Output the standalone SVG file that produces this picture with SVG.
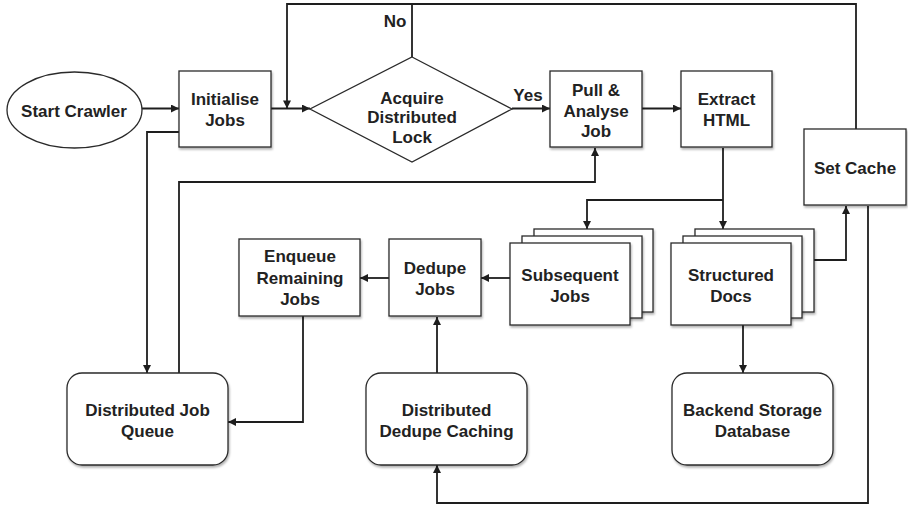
<svg xmlns="http://www.w3.org/2000/svg" width="908" height="506" viewBox="0 0 908 506">
  <style>
    .shape { fill: #ffffff; stroke: #2a2a2a; stroke-width: 1.3; }
    .shadowed { filter: url(#shadow); }
    .label { font-family: "Liberation Sans", Arial, Helvetica, sans-serif; font-weight: bold; font-size: 17px; fill: #222222; text-anchor: middle; }
    .wire { fill: none; stroke: #1e1e1e; stroke-width: 1.8; }
    .arrow { marker-end: url(#head); }
  </style>
  <defs>
    <marker id="head" viewBox="0 0 10 10" refX="10" refY="5" markerWidth="9" markerHeight="8" markerUnits="userSpaceOnUse" orient="auto">
      <path d="M0,0 L10,5 L0,10 z" fill="#1e1e1e"/>
    </marker>
    <filter id="shadow" x="-10%" y="-10%" width="125%" height="130%">
      <feDropShadow dx="1" dy="2" stdDeviation="1.2" flood-color="#000000" flood-opacity="0.3"/>
    </filter>
  </defs>

  <rect width="908" height="506" fill="#ffffff"/>

  <!-- connectors -->
  <g id="connectors">
    <!-- start -> initialise -->
    <path class="wire arrow" d="M142,108.5 H179"/>
    <!-- initialise -> lock -->
    <path class="wire arrow" d="M271,108.5 H310"/>
    <!-- No: loop back from the lock, also fed by Set Cache -->
    <path class="wire" d="M412,57 V4"/>
    <path class="wire arrow" d="M856,129 V4 H287 V108.5"/>
    <!-- Yes -->
    <path class="wire arrow" d="M512,108.5 H550"/>
    <!-- pull -> extract -->
    <path class="wire arrow" d="M642,108.5 H681"/>
    <!-- extract -> structured docs / subsequent jobs -->
    <path class="wire arrow" d="M723,148 V229"/>
    <path class="wire arrow" d="M723,200 H587 V229"/>
    <!-- structured docs -> set cache -->
    <path class="wire arrow" d="M814,260 H846 V206"/>
    <!-- set cache -> dedupe caching -->
    <path class="wire arrow" d="M868,206 V503 H437 V465"/>
    <!-- structured docs -> backend storage -->
    <path class="wire arrow" d="M743,325 V373"/>
    <!-- subsequent -> dedupe -> enqueue -->
    <path class="wire arrow" d="M510,278 H481"/>
    <path class="wire arrow" d="M389,278 H360"/>
    <!-- dedupe caching -> dedupe jobs -->
    <path class="wire arrow" d="M437,373 V317"/>
    <!-- enqueue -> job queue -->
    <path class="wire arrow" d="M303,316 V422 H228"/>
    <!-- initialise -> job queue -->
    <path class="wire arrow" d="M179,132 H147 V373"/>
    <!-- job queue -> pull -->
    <path class="wire arrow" d="M179,373 V182 H595 V148"/>
  </g>

  <!-- edge labels -->
  <text class="label" x="395" y="27">No</text>
  <text class="label" x="528" y="101">Yes</text>

  <g id="start-crawler">
    <ellipse class="shape" cx="74.5" cy="110" rx="67.5" ry="38"/>
    <text class="label" x="74" y="116.5">Start Crawler</text>
  </g>

  <g id="initialise-jobs">
    <rect class="shape shadowed" x="179" y="71" width="92" height="76"/>
    <text class="label" x="225" y="105">Initialise</text>
    <text class="label" x="225" y="125.5">Jobs</text>
  </g>

  <g id="acquire-lock">
    <polygon class="shape" points="412,57 512,109 412,162 310,109"/>
    <text class="label" x="412" y="104">Acquire</text>
    <text class="label" x="412" y="123">Distributed</text>
    <text class="label" x="412" y="142.5">Lock</text>
  </g>

  <g id="pull-analyse-job">
    <rect class="shape shadowed" x="550" y="71" width="92" height="76"/>
    <text class="label" x="596" y="95.5">Pull &amp;</text>
    <text class="label" x="596" y="116.5">Analyse</text>
    <text class="label" x="596" y="137">Job</text>
  </g>

  <g id="extract-html">
    <rect class="shape shadowed" x="681" y="71" width="91" height="76"/>
    <text class="label" x="726.5" y="105">Extract</text>
    <text class="label" x="726.5" y="126">HTML</text>
  </g>

  <g id="set-cache">
    <rect class="shape shadowed" x="804" y="129" width="102" height="76"/>
    <text class="label" x="855" y="173.5">Set Cache</text>
  </g>

  <g id="subsequent-jobs">
    <rect class="shape shadowed" x="534" y="229" width="119" height="83"/>
    <rect class="shape shadowed" x="522" y="236" width="120" height="82"/>
    <rect class="shape shadowed" x="510" y="243" width="120" height="82"/>
    <text class="label" x="570" y="281">Subsequent</text>
    <text class="label" x="570" y="302">Jobs</text>
  </g>

  <g id="structured-docs">
    <rect class="shape shadowed" x="695" y="229" width="119" height="83"/>
    <rect class="shape shadowed" x="683" y="236" width="119" height="82"/>
    <rect class="shape shadowed" x="671" y="243" width="120" height="82"/>
    <text class="label" x="731" y="281">Structured</text>
    <text class="label" x="731" y="302">Docs</text>
  </g>

  <g id="dedupe-jobs">
    <rect class="shape shadowed" x="389" y="239" width="92" height="77"/>
    <text class="label" x="435" y="274">Dedupe</text>
    <text class="label" x="435" y="295">Jobs</text>
  </g>

  <g id="enqueue-remaining-jobs">
    <rect class="shape shadowed" x="239" y="239" width="121" height="77"/>
    <text class="label" x="300" y="262">Enqueue</text>
    <text class="label" x="300" y="283.5">Remaining</text>
    <text class="label" x="300" y="305">Jobs</text>
  </g>

  <g id="distributed-job-queue">
    <rect class="shape shadowed" x="67" y="373" width="161" height="92" rx="15" ry="15"/>
    <text class="label" x="147.5" y="416">Distributed Job</text>
    <text class="label" x="147.5" y="436.5">Queue</text>
  </g>

  <g id="distributed-dedupe-caching">
    <rect class="shape shadowed" x="366" y="373" width="161" height="92" rx="15" ry="15"/>
    <text class="label" x="446.5" y="416">Distributed</text>
    <text class="label" x="446.5" y="436.5">Dedupe Caching</text>
  </g>

  <g id="backend-storage-database">
    <rect class="shape shadowed" x="672" y="373" width="161" height="92" rx="15" ry="15"/>
    <text class="label" x="752.5" y="416">Backend Storage</text>
    <text class="label" x="752.5" y="436.5">Database</text>
  </g>
</svg>
